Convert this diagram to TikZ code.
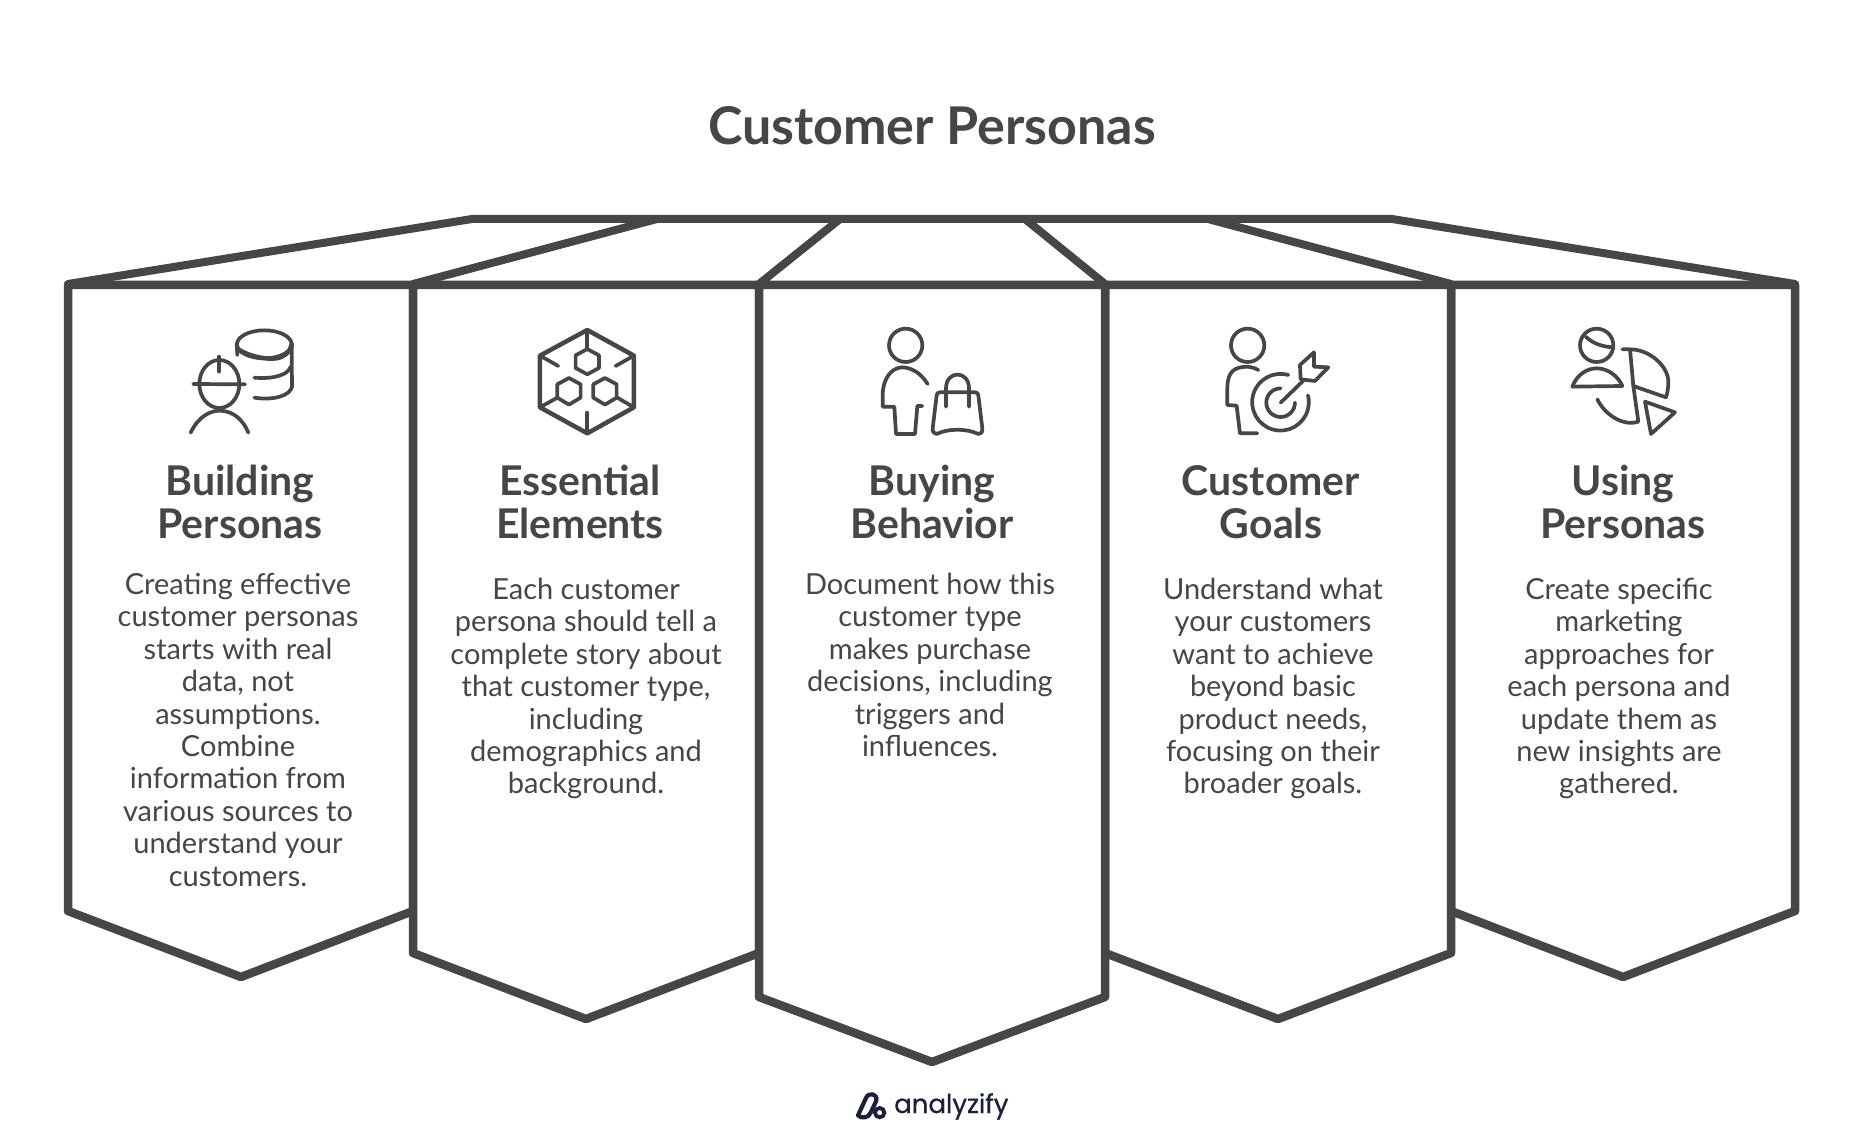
\documentclass[tikz,border=0pt]{standalone}
\usepackage{fontspec}
\setmainfont{Lato}
\newfontfamily\logofont{Poppins}[Scale=1]
\definecolor{ink}{HTML}{464646}
\definecolor{navy}{HTML}{1A1F3D}
\tikzset{
 panel/.style={draw=ink,line width=8.5pt,fill=white,line join=round,line cap=round},
 roofline/.style={draw=ink,line width=8pt,line join=round,line cap=round},
 ico/.style={draw=ink,line width=3.7pt,line join=round,line cap=round},
 icobold/.style={draw=ink,line width=4.5pt,line join=round,line cap=round},
 heading/.style={text=ink,font=\fontsize{41}{43}\selectfont\bfseries,align=center,inner sep=0pt,anchor=north},
 bodytext/.style={text=ink,font=\fontsize{29}{32.4}\selectfont,align=center,inner sep=0pt,anchor=north},
 zoomed/.style={x=0.3333pt,y=-0.3333pt}
}
\begin{document}
\begin{tikzpicture}[x=1pt,y=-1pt]
\useasboundingbox (0,0) rectangle (1865,1131);
\fill[white] (0,0) rectangle (1865,1131);
% title
\node[text=ink,font=\fontsize{52}{56}\selectfont\bfseries,inner sep=0pt] (title) at (932,126) {Customer Personas};
% roof
\draw[roofline] (68,284) -- (472,219) -- (1392,219) -- (1795,284);
\draw[roofline] (413,284) -- (657,219);
\draw[roofline] (759,284) -- (840,219);
\draw[roofline] (1105,284) -- (1025,219);
\draw[roofline] (1451,284) -- (1208,219);
% panels
\draw[panel] (68,285) -- (413,285) -- (413,911) -- (241,977) -- (68,911) -- cycle;
\draw[panel] (1451,285) -- (1795,285) -- (1795,911) -- (1623,977) -- (1451,911) -- cycle;
\draw[panel] (413,285) -- (759,285) -- (759,953) -- (586,1019) -- (413,953) -- cycle;
\draw[panel] (1105,285) -- (1451,285) -- (1451,953) -- (1278,1019) -- (1105,953) -- cycle;
\draw[panel] (759,285) -- (1105,285) -- (1105,997) -- (932,1062) -- (759,997) -- cycle;
% headings
\node[heading] (h1) at (240,465) {Building\\Personas};
\node[heading] (h2) at (580,465) {Essential\\Elements};
\node[heading] (h3) at (932,465) {Buying\\Behavior};
\node[heading] (h4) at (1271,465) {Customer\\Goals};
\node[heading] (h5) at (1623,465) {Using\\Personas};
% body
\node[bodytext] (b1) at (238,573) {Creating effective\\customer personas\\starts with real\\data, not\\assumptions.\\Combine\\information from\\various sources to\\understand your\\customers.};
\node[bodytext] (b2) at (586,578) {Each customer\\persona should tell a\\complete story about\\that customer type,\\including\\demographics and\\background.};
\node[bodytext] (b3) at (930,573) {Document how this\\customer type\\makes purchase\\decisions, including\\triggers and\\influences.};
\node[bodytext] (b4) at (1273,578) {Understand what\\your customers\\want to achieve\\beyond basic\\product needs,\\focusing on their\\broader goals.};
\node[bodytext] (b5) at (1619,578) {Create specific\\marketing\\approaches for\\each persona and\\update them as\\new insights are\\gathered.};
% icon 1
\begin{scope}[shift={(170,310)},zoomed]
 \draw[ico] (148,222) ellipse [x radius=60,y radius=72];
 \draw[ico] (70,222) -- (225,223);
 \draw[ico] (147,140) -- (147,185);
 \draw[ico] (62,368) .. controls (85,320) and (120,302) .. (150,302) .. controls (190,303) and (220,330) .. (235,368);
 \draw[ico] (283,103) ellipse [x radius=82,y radius=42];
 \draw[icobold] (205,118) .. controls (230,135) and (280,150) .. (320,145) .. controls (345,140) and (360,125) .. (365,105);
 \draw[ico] (200,100) -- (202,135);
 \draw[ico] (365,100) -- (366,232);
 \draw[ico] (253,203) .. controls (310,208) and (355,195) .. (362,170);
 \draw[ico] (253,263) .. controls (310,272) and (365,258) .. (367,225);
\end{scope}
% icon 2
\begin{scope}[shift={(170,310)},zoomed]
 \draw[icobold] (1252,60) -- (1392,137) -- (1392,292) -- (1252,370) -- (1110,292) -- (1110,137) -- cycle;
 \draw[ico] (1252,60) -- (1252,118);
 \draw[ico] (1110,137) -- (1165,168);
 \draw[ico] (1392,137) -- (1337,168);
 \draw[ico] (1110,292) -- (1162,263);
 \draw[ico] (1392,292) -- (1342,263);
 \draw[ico] (1252,370) -- (1252,308);
 \draw[ico] (1252,117) -- (1287,136) -- (1287,174) -- (1252,193) -- (1217,174) -- (1217,136) -- cycle;
 \draw[ico] (1197,204) -- (1232,223) -- (1232,263) -- (1197,284) -- (1162,263) -- (1162,223) -- cycle;
 \draw[ico] (1305,204) -- (1340,223) -- (1340,263) -- (1305,284) -- (1270,263) -- (1270,223) -- cycle;
\end{scope}
% icon 3
\begin{scope}[shift={(860,310)},zoomed]
 \draw[ico] (137,106) circle [radius=50];
 \draw[ico] (203,222) .. controls (180,185) and (150,172) .. (125,172) .. controls (90,175) and (70,210) .. (68,250) -- (68,290) -- (103,290) -- (108,372) -- (165,372) -- (172,288) -- (187,288);
 \draw[ico] (240,247) -- (345,247) .. controls (352,247) and (354,250) .. (355,256) -- (367,355) .. controls (368,368) and (362,372) .. (355,372) .. controls (320,355) and (265,355) .. (230,372) .. controls (222,372) and (217,365) .. (218,355) -- (230,256) .. controls (231,250) and (234,247) .. (240,247) -- cycle;
 \draw[ico] (258,290) -- (258,235) .. controls (258,180) and (327,180) .. (327,235) -- (327,290);
\end{scope}
% icon 4
\begin{scope}[shift={(860,310)},zoomed]
 \draw[ico] (1163,106) circle [radius=50];
 \draw[ico] (1195,180) .. controls (1170,165) and (1140,170) .. (1125,178) .. controls (1105,190) and (1102,215) .. (1102,240) -- (1102,285) -- (1130,287) -- (1140,370) -- (1192,370);
 \draw[ico] (1285,195) arc [start angle=-74,end angle=-374,radius=85];
 \draw[ico] (1262,235) arc [start angle=-90,end angle=-360,radius=43];
 \draw[ico] (1262,278) -- (1330,212);
 \draw[ico] (1320,165) -- (1362,127) -- (1362,170) -- (1405,172) -- (1365,213) -- (1322,208) -- cycle;
\end{scope}
% icon 5
\begin{scope}[shift={(1540,310)},zoomed]
 \draw[ico] (170,106) circle [radius=50];
 \draw[ico] (137,80) .. controls (160,102) and (190,110) .. (217,112);
 \draw[ico] (97,230) .. controls (110,195) and (140,175) .. (170,175) .. controls (205,175) and (235,200) .. (247,228) -- cycle;
 \draw[ico] (247,118) -- (270,118) .. controls (330,118) and (385,170) .. (385,215) .. controls (385,235) and (382,250) .. (378,262) -- (280,228) -- (270,118);
 \draw[ico] (280,228) -- (295,335) .. controls (250,350) and (195,315) .. (172,268);
 \draw[ico] (315,275) -- (405,307) -- (333,372) -- cycle;
\end{scope}
% logo
\begin{scope}[shift={(820,1070)},zoomed]
 \draw[navy,line width=4.2pt,line cap=round,line join=round] (114,136) -- (138,84) .. controls (147,64) and (176,72) .. (168,94) -- (152,128) .. controls (146,145) and (122,146) .. (114,136);
 \draw[navy,line width=3.8pt] (179,128) circle [radius=14];
\end{scope}
\node[text=navy,font=\logofont\fontsize{26}{30}\selectfont\addfontfeature{FakeBold=0.6},inner sep=0pt,anchor=base west] (logo) at (894,1113) {analyzify};
\end{tikzpicture}
\end{document}
